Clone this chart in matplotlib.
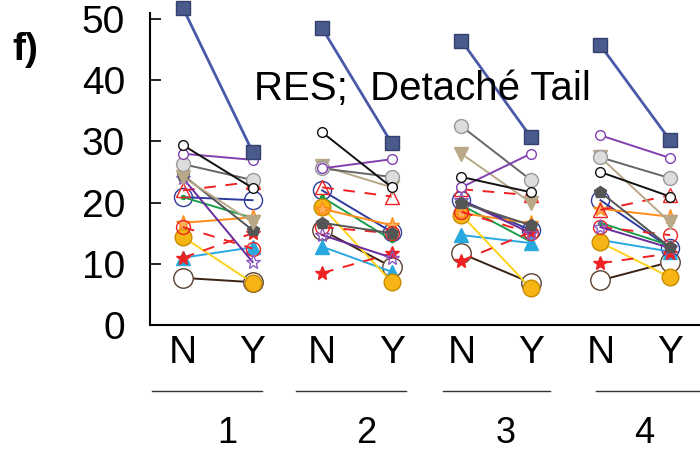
import matplotlib.pyplot as plt

plt.rcParams['font.family'] = ['Liberation Sans', 'DejaVu Sans']

# tick/group labels
groups = ['1', '2', '3', '4']
conditions = ['N', 'Y']

# values per series: [g1 N, g1 Y, g2 N, g2 Y, g3 N, g3 Y, g4 N, g4 Y]
navy = [51.8, 28.3, 48.5, 29.7, 46.5, 30.7, 45.7, 30.2]
black = [29.4, 22.4, 31.5, 22.5, 24.2, 21.7, 25.0, 21.0]
purple = [28.0, 27.0, 25.6, 27.1, 22.5, 28.0, 31.0, 27.3]
gray_h = [26.3, 23.7, 25.6, 24.2, 32.5, 23.7, 27.4, 24.0]
tan = [24.2, 16.8, 26.0, 22.5, 28.0, 20.0, 27.4, 16.8]
dark_gray = [24.5, 15.5, 16.7, 15.0, 20.0, 16.3, 21.7, 12.7]
dark_purple = [24.0, 10.3, 14.7, 11.0, 20.4, 15.0, 16.0, 12.6]
red_tri = [22.0, 23.4, 22.5, 21.0, 22.2, 21.2, 18.8, 21.2]
red_star = [11.0, 15.0, 8.5, 11.7, 10.5, 15.2, 10.1, 11.7]
red_circle = [16.0, 12.5, 16.0, 15.0, 18.5, 15.0, 16.0, 14.7]
orange = [16.7, 17.6, 19.0, 16.3, 18.3, 16.6, 19.0, 17.7]
gold = [14.4, 6.9, 19.3, 7.0, 18.0, 6.0, 13.5, 7.8]
light_blue = [11.0, 12.7, 12.8, 8.7, 14.7, 13.4, 13.9, 12.0]
green = [20.9, 17.5, 20.9, 13.9, 19.6, 13.6, 16.7, 13.0]
blue = [20.9, 20.4, 22.0, 15.2, 20.4, 15.5, 20.4, 12.6]
brown = [7.7, 7.0, 15.5, 9.5, 11.7, 6.9, 7.3, 10.3]

# (values, line colour, linestyle, marker, marker face, marker edge, size)
series = [
    (brown, '#3b2314', '-', 'o', 'white', '#5a4030', 14),
    (blue, '#2e3a9c', '-', 'o', 'none', '#2e3a9c', 13),
    (green, '#1a9e4a', '-', '.', '#1a9e4a', '#1a9e4a', 6),
    (light_blue, '#29a8e0', '-', '^', '#29a8e0', '#29a8e0', 10),
    (gold, '#ffd21a', '-', 'o', '#f7b515', '#c88a00', 12),
    (orange, '#ff8c1a', '-', '*', '#ffb060', '#ff8c1a', 11),
    (red_circle, '#ee2222', (0, (6, 5)), 'o', 'none', '#ee2222', 10),
    (red_star, '#ee2222', (0, (6, 5)), '*', '#ee2222', '#ee2222', 10),
    (red_tri, '#ee2222', (0, (6, 5)), '^', 'none', '#ee2222', 10),
    (dark_purple, '#6a2c9c', '-', '*', 'none', '#8a5cc0', 11),
    (dark_gray, '#555555', '-', 'p', '#555555', '#555555', 9),
    (tan, '#b8a888', '-', 'v', '#b8a888', '#b8a888', 10),
    (gray_h, '#666666', '-', 'o', '#dddddd', '#999999', 10),
    (purple, '#8040b0', '-', 'o', 'white', '#8040b0', 7),
    (black, '#111111', '-', 'o', 'white', '#111111', 7),
    (navy, '#4a59a7', '-', 's', '#4a5a8c', '#34406e', 10),
]

fig = plt.figure(figsize=(7, 4.53), dpi=100)
ax = fig.add_axes([150 / 700, 1 - 325 / 453, 550 / 700, (325 - 13) / 453])

xs = list(range(8))
for vals, col, ls, mk, mfc, mec, ms in series:
    for g in range(4):
        lw = 2.0 if vals is navy else 1.4
        ax.plot(xs[2 * g:2 * g + 2], vals[2 * g:2 * g + 2], color=col, ls=ls, lw=lw,
                marker=mk, mfc=mfc, mec=mec, ms=ms, mew=1.0, clip_on=False)

ax.set_xlim(-0.474, 7.43)
ax.set_ylim(0, 51)
ax.set_yticks([0, 10, 20, 30, 40, 50])
ax.tick_params(axis='y', direction='in', length=8, width=1.2, labelsize=28, pad=18)
ax.set_xticks([])
for s in ['top', 'right']:
    ax.spines[s].set_visible(False)
ax.spines['left'].set_linewidth(1.5)
ax.spines['bottom'].set_linewidth(1.5)

# N / Y labels under the axis
for i, x in enumerate(xs):
    ax.text(x, -4.6, conditions[i % 2], ha='center', va='center', fontsize=28,
            clip_on=False)

# group underline and number
spans = [(-0.44, 1.13), (1.62, 3.2), (3.74, 5.28), (5.94, 7.5)]
for g, (a, b) in enumerate(spans):
    ax.plot([a, b], [-10.8, -10.8], color='#333333', lw=1.0, clip_on=False)
    ax.text((xs[2 * g] + xs[2 * g + 1]) / 2 + 0.13, -17.8, groups[g], ha='center',
            va='center', fontsize=26, clip_on=False)

ax.text(3.44, 38.6, 'RES;  Detaché Tail', ha='center', va='center', fontsize=29)
fig.text(12 / 700, 1 - 50 / 453, 'f)', fontsize=28, fontweight='bold', va='center')

fig.savefig('out.png', dpi=100)
